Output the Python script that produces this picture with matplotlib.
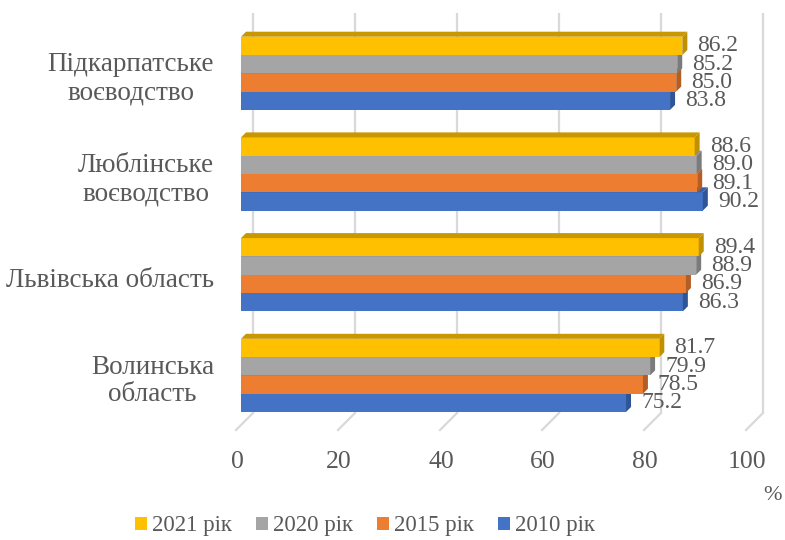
import matplotlib
matplotlib.use("Agg")
import matplotlib.pyplot as plt
from matplotlib.patches import Polygon, Patch

# data, bottom category first
regions = ["Волинська\nобласть", "Львівська область",
           "Люблінське\nвоєводство", "Підкарпатське\nвоєводство"]
series = ["2010 рік", "2015 рік", "2020 рік", "2021 рік"]
v2010 = [75.2, 86.3, 90.2, 83.8]
v2015 = [78.5, 86.9, 89.1, 85.0]
v2020 = [79.9, 88.9, 89.0, 85.2]
v2021 = [81.7, 89.4, 88.6, 86.2]
values = [v2010, v2015, v2020, v2021]
xticks = [0, 20, 40, 60, 80, 100]

front = ["#4472C4", "#ED7D31", "#A5A5A5", "#FFC000"]
top = ["#3A62A8", "#CA6A2A", "#8D8D8D", "#C99700"]
side = ["#2F5597", "#B35E24", "#7B7B7B", "#BF9000"]
txt = "#595959"

plt.rcParams["font.family"] = ["Liberation Serif", "DejaVu Serif"]

W, H = 785, 540
fig = plt.figure(figsize=(W / 100, H / 100), dpi=100)

# pixel geometry of the plot (front plane)
x0_px, px_per_unit = 241, 5.12
ax_top_px, ax_bot_px = 13, 413
c0_px, pitch_px = 376, 100.7
ylo = -(ax_bot_px - c0_px) / pitch_px
yhi = 3 + (c0_px - pitch_px * 3 - ax_top_px) / pitch_px
ax = fig.add_axes([x0_px / W, (H - ax_bot_px) / H,
                   100 * px_per_unit / W, (ax_bot_px - ax_top_px) / H])
ax.set_xlim(0, 100)
ax.set_ylim(ylo, yhi)
ax.axis("off")

dx = 5 / px_per_unit       # bar depth
dy = 5 / pitch_px
back = 12 / px_per_unit    # back wall offset
fdx, fdy = 17 / px_per_unit, 17 / pitch_px

# back wall and floor gridlines
for v in xticks:
    xb = v * 5.1 / px_per_unit + back
    ax.plot([xb, xb], [ylo, yhi], color="#D9D9D9", lw=1.6, zorder=1,
            clip_on=False, solid_capstyle="butt")
    ax.plot([xb, xb - fdx], [ylo, ylo - fdy], color="#D9D9D9", lw=1.6,
            zorder=1, clip_on=False)
    ax.text(v * 5.1 / px_per_unit - 4 / px_per_unit, -(462 - c0_px) / pitch_px,
            str(v), ha="center", va="center", fontsize=18.5, color=txt)

h = 18.3 / pitch_px
gbase = -36 / pitch_px
ypos = list(range(len(regions)))
for s, vals in enumerate(values):
    yb = [y + gbase + s * h for y in ypos]
    z = 3 + s
    ax.barh(yb, vals, height=h, align="edge", color=front[s], zorder=z)
    for y, v in zip(yb, vals):
        ax.add_patch(Polygon([(0, y + h), (v, y + h), (v + dx, y + h + dy),
                              (dx, y + h + dy)], closed=True,
                             facecolor=top[s], edgecolor="none", zorder=z))
        ax.add_patch(Polygon([(v, y), (v + dx, y + dy), (v + dx, y + h + dy),
                              (v, y + h)], closed=True,
                             facecolor=side[s], edgecolor="none", zorder=z))
        ax.text(v + 15 / px_per_unit, y + h / 2, f"{v:.1f}", ha="left",
                va="center", fontsize=17, color=txt, zorder=10, clip_on=False)

for y, name in zip(ypos, regions):
    ax.text(-27 / px_per_unit, y - 5 / pitch_px, name, ha="right", va="center",
            multialignment="center", fontsize=19.5, color=txt, clip_on=False,
            linespacing=1.15)

ax.text((772 - x0_px) / px_per_unit, -(495 - c0_px) / pitch_px, "%",
        ha="center", va="center", fontsize=16, color=txt, clip_on=False)

handles = [Patch(facecolor=front[s], label=series[s]) for s in (3, 2, 1, 0)]
fig.legend(handles=handles, loc="center", ncol=4, frameon=False,
           bbox_to_anchor=(365 / W, 1 - 526 / H), fontsize=16.5,
           handlelength=0.52, handleheight=0.52, handletextpad=0.22,
           columnspacing=1.05, labelcolor=txt, borderpad=0)

fig.savefig("out.png", dpi=100)
